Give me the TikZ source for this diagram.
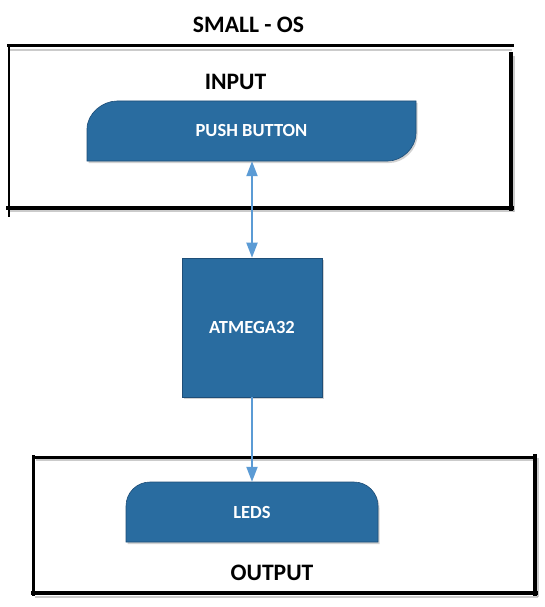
\documentclass[tikz,border=0pt]{standalone}
\usepackage{fontspec}
\setmainfont{Carlito}
\usetikzlibrary{arrows.meta,shadows}
\definecolor{boxblue}{RGB}{41,108,160}
\definecolor{boxedge}{RGB}{30,78,120}
\definecolor{arrowblue}{RGB}{91,155,213}
\tikzset{
  frameline/.style={line width=#1, black, line cap=rect},
  frameshadow/.style={line width=#1, black!45, opacity=0.45},
  bluebox/.style={fill=boxblue, draw=boxedge, line width=0.6pt,
    drop shadow={shadow xshift=1.5pt, shadow yshift=-2pt, opacity=0.35}},
  boxtext/.style={text=white, font=\bfseries\fontsize{18.5}{18.5}\selectfont, inner sep=0pt},
  headtext/.style={text=black, font=\bfseries\fontsize{23.6}{23.6}\selectfont, inner sep=0pt},
  link/.style={arrowblue, line width=2pt, >={Triangle[width=11pt,length=15pt]}}
}
\begin{document}
\begin{tikzpicture}[x=1pt,y=-1pt]
\useasboundingbox (0,0) rectangle (545,607);
\fill[white] (0,0) rectangle (545,607);

% input frame shadows
\draw[frameshadow=2pt] (10,50) -- (512,50);
\draw[frameshadow=2pt] (10,211) -- (514,211);
\draw[frameshadow=2pt] (514,56) -- (514,212);
% input frame
\draw[frameline=3pt] (8,46) -- (512,46);
\draw[frameline=4pt] (511,54) -- (511,209);
\draw[frameline=4pt] (8,207.5) -- (512,207.5);
\draw[frameline=2.6pt] (9,46) -- (9,216);

% output frame shadows
\draw[frameshadow=2pt] (36,460) -- (534,460);
\draw[frameshadow=2pt] (35,597) -- (538,597);
\draw[frameshadow=2pt] (538,458) -- (538,597);
% output frame
\draw[frameline=3pt] (33,457) -- (535,457);
\draw[frameline=4pt] (535,456) -- (535,594);
\draw[frameline=4.5pt] (33,593) -- (536,593);
\draw[frameline=3pt] (33,456) -- (33,594);

% push button shape
\path[bluebox] (87,161) -- (87,129)
  .. controls (87,113.5) and (102.5,101) .. (117,101)
  -- (416,101) -- (416,133)
  .. controls (416,148.5) and (401.5,161) .. (388,161) -- cycle;
% leds shape
\path[bluebox] (126,542) -- (126,506)
  .. controls (126,492.7) and (136.7,482) .. (150,482)
  -- (354,482)
  .. controls (367.3,482) and (378,492.7) .. (378,506)
  -- (378,542) -- cycle;

% nodes
\node[headtext] (title) at (248.5,24.5) {SMALL - OS};
\node[headtext] (inlabel) at (235.5,82) {INPUT};
\node[boxtext, minimum width=329pt, minimum height=60pt] (pb) at (251.5,131) {PUSH BUTTON};
\node[bluebox, boxtext, minimum width=140pt, minimum height=139pt] (atm) at (252,327.5) {ATMEGA32};
\node[boxtext, minimum width=252pt, minimum height=60pt] (leds) at (252,512) {LEDS};
\node[headtext] (outlabel) at (272,573) {OUTPUT};

% connectors
\draw[link, <->] (atm.north |- pb.south) -- (atm.north);
\draw[link, ->] (atm.south) -- (atm.south |- leds.north);
\end{tikzpicture}
\end{document}
